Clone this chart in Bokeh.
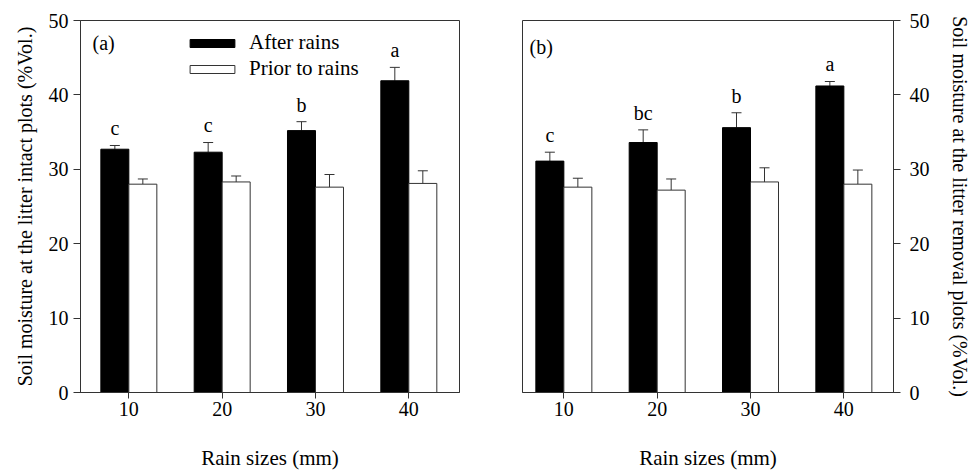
from bokeh.plotting import figure
from bokeh.models import (ColumnDataSource, Range1d, FixedTicker, Whisker, TeeHead,
                          Legend, LegendItem, Label)
from bokeh.layouts import row
from bokeh.core.properties import value
from bokeh.embed import file_html
from bokeh.resources import INLINE

# ---------------- data ----------------
rain_sizes = [10, 20, 30, 40]

a_after_mean = [32.7, 32.3, 35.2, 41.9]
a_after_se = [0.5, 1.3, 1.2, 1.8]
a_prior_mean = [28.0, 28.3, 27.6, 28.1]
a_prior_se = [0.7, 0.8, 1.7, 1.7]
a_letters = ["c", "c", "b", "a"]

b_after_mean = [31.1, 33.6, 35.6, 41.2]
b_after_se = [1.2, 1.7, 2.0, 0.6]
b_prior_mean = [27.6, 27.2, 28.3, 28.0]
b_prior_se = [1.2, 1.5, 1.9, 1.9]
b_letters = ["c", "bc", "b", "a"]

y_ticks = [0, 10, 20, 30, 40, 50]
x_label = "Rain sizes (mm)"
a_ylabel = "Soil moisture at the litter intact plots (%Vol.)"
b_ylabel = "Soil moisture at the litter removal plots (%Vol.)"

FONT = "Liberation Serif"
LC = "#333333"
BAR_W = 3.0
HALF = BAR_W / 2
LETTER_PAD = 2.3  # gap between error cap and letter (y units)


def make_source(after_m, after_e, prior_m, prior_e, letters):
    return ColumnDataSource(dict(
        xa=[x - HALF for x in rain_sizes],
        xp=[x + HALF for x in rain_sizes],
        after=after_m,
        after_top=[m + e for m, e in zip(after_m, after_e)],
        letter_y=[m + e + LETTER_PAD for m, e in zip(after_m, after_e)],
        prior=prior_m,
        prior_top=[m + e for m, e in zip(prior_m, prior_e)],
        letter=letters,
    ))


def make_panel(src, xr, ylabel, side, width, bl, br, tag, tag_xy, legend=False):
    p = figure(width=width, height=473, x_range=xr, y_range=Range1d(0, 50),
               output_backend="svg", toolbar_location=None,
               x_axis_location="below", y_axis_location=side,
               min_border_left=bl, min_border_right=br,
               min_border_top=20, min_border_bottom=81)
    p.grid.visible = False
    p.background_fill_color = "white"
    p.border_fill_color = "white"
    p.outline_line_color = LC
    p.outline_line_width = 1

    r_after = p.vbar(x="xa", top="after", bottom=0, width=BAR_W, source=src,
                     fill_color="black", line_color="black", line_width=1)
    r_prior = p.vbar(x="xp", top="prior", bottom=0, width=BAR_W, source=src,
                     fill_color="white", line_color=LC, line_width=1)

    for xcol, lo, hi in (("xa", "after", "after_top"), ("xp", "prior", "prior_top")):
        w = Whisker(source=src, base=xcol, lower=lo, upper=hi, dimension="height",
                    line_color=LC, line_width=1, lower_head=None,
                    upper_head=TeeHead(size=10, line_color=LC, line_width=1))
        p.add_layout(w)

    p.text(x="xa", y="letter_y", text="letter", source=src,
           text_align="center", text_baseline="alphabetic",
           text_font=value(FONT), text_font_size="20px", text_color="black")

    p.add_layout(Label(x=tag_xy[0], y=tag_xy[1], x_units="screen", y_units="screen",
                       text=tag, text_font=FONT, text_font_size="20px",
                       text_baseline="middle", text_color="black"))

    for ax in (p.xaxis[0], p.yaxis[0]):
        ax.axis_line_color = LC
        ax.axis_line_width = 1
        ax.major_tick_line_color = LC
        ax.major_tick_line_width = 1
        ax.minor_tick_line_color = None
        ax.major_tick_in = 0
        ax.major_label_text_font = FONT
        ax.major_label_text_font_size = "20px"
        ax.major_label_text_color = "black"
        ax.axis_label_text_font = FONT
        ax.axis_label_text_font_style = "normal"
        ax.axis_label_text_color = "black"

    xa = p.xaxis[0]
    xa.ticker = FixedTicker(ticks=rain_sizes)
    xa.major_tick_out = 6
    xa.major_label_standoff = 3
    xa.axis_label = x_label
    xa.axis_label_text_font_size = "21px"
    xa.axis_label_standoff = 27

    ya = p.yaxis[0]
    ya.ticker = FixedTicker(ticks=y_ticks)
    ya.major_tick_out = 7
    ya.axis_label = ylabel
    ya.axis_label_text_font_size = "20px"
    if side == "left":
        ya.major_label_standoff = 5
        ya.axis_label_standoff = 10
    else:
        ya.major_label_standoff = 9
        ya.axis_label_standoff = 16

    if legend:
        lg = Legend(items=[LegendItem(label="After rains", renderers=[r_after]),
                           LegendItem(label="Prior to rains", renderers=[r_prior])],
                    location=(104, 311), orientation="vertical",
                    glyph_width=56, glyph_height=10, label_standoff=9,
                    label_height=22, label_text_line_height=1.0,
                    spacing=1, padding=0, margin=0,
                    label_text_font=FONT, label_text_font_size="21px",
                    label_text_color="black",
                    border_line_color=None, background_fill_alpha=0)
        p.add_layout(lg, "center")
    return p


src_a = make_source(a_after_mean, a_after_se, a_prior_mean, a_prior_se, a_letters)
src_b = make_source(b_after_mean, b_after_se, b_prior_mean, b_prior_se, b_letters)

p1 = make_panel(src_a, Range1d(4.82, 45.43), a_ylabel, "left", 490, 80, 31,
                "(a)", (12, 350), legend=True)
p2 = make_panel(src_b, Range1d(5.57, 45.32), b_ylabel, "right", 483, 32, 80,
                "(b)", (7, 346))

layout = row(p1, p2, spacing=0)
open("out.html", "w").write(file_html(layout, INLINE))
